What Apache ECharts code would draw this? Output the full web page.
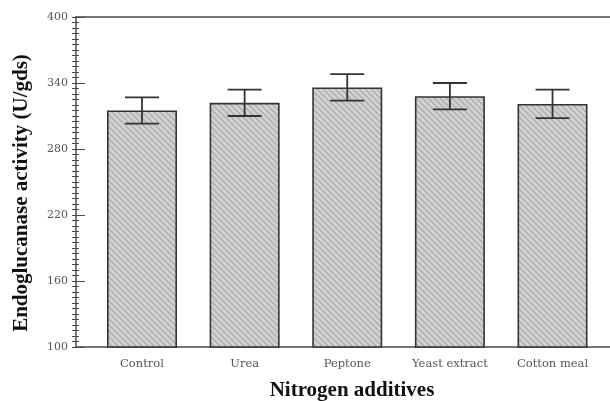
<!DOCTYPE html>
<html>
<head>
<meta charset="utf-8">
<script src="https://cdn.jsdelivr.net/npm/echarts@6/dist/echarts.min.js"></script>
<style>
html,body{margin:0;padding:0;background:#fff;}
#chart{width:610px;height:401px;}
</style>
</head>
<body>
<div id="chart"></div>
<script>
var categories = ['Control', 'Urea', 'Peptone', 'Yeast extract', 'Cotton meal'];
var activity = [315, 322, 336, 328, 321];
var errors = [12, 12, 12, 12, 13];
var yTicks = [100, 160, 220, 280, 340, 400];

function hatch() {
  var c = document.createElement('canvas');
  c.width = 6; c.height = 6;
  var g = c.getContext('2d');
  g.fillStyle = '#d2d2d2';
  g.fillRect(0, 0, 6, 6);
  g.strokeStyle = '#acacac';
  g.lineWidth = 1.3;
  g.beginPath();
  g.moveTo(-1, -1); g.lineTo(7, 7);
  g.moveTo(-4, 2); g.lineTo(4, 10);
  g.moveTo(2, -4); g.lineTo(10, 4);
  g.stroke();
  return c;
}

var barData = categories.map(function (c, i) { return [i, activity[i]]; });
var errData = categories.map(function (c, i) { return [i, activity[i] - errors[i], activity[i] + errors[i]]; });

var serif = "'Liberation Serif', 'DejaVu Serif', serif";
var tickFont = "'DejaVu Serif', serif";
var axisColor = '#4a4a4a';

var chart = echarts.init(document.getElementById('chart'), null, {renderer: 'canvas'});
chart.setOption({
  animation: false,
  backgroundColor: '#fff',
  grid: {left: 76, right: 0, top: 17, bottom: 54},
  xAxis: [{
    type: 'value', min: -0.643, max: 4.56,
    axisLine: {show: true, onZero: false, lineStyle: {color: axisColor, width: 1.5}},
    axisTick: {show: false},
    splitLine: {show: false},
    axisLabel: {
      customValues: [0, 1, 2, 3, 4],
      formatter: function (v) { return categories[Math.round(v)]; },
      margin: 11, fontFamily: tickFont, fontSize: 11.5, color: '#555'
    }
  }, {
    type: 'value', min: -0.643, max: 4.56, position: 'top',
    axisLine: {show: true, onZero: false, lineStyle: {color: axisColor, width: 1.5}},
    axisTick: {show: false}, axisLabel: {show: false}, splitLine: {show: false}
  }],
  yAxis: [{
    type: 'value', min: 100, max: 400, interval: 60,
    axisLine: {show: true, onZero: false, lineStyle: {color: axisColor, width: 1.5}},
    axisTick: {show: true, length: 4, lineStyle: {color: axisColor, width: 1}},
    minorTick: {show: true, splitNumber: 12, length: 4, lineStyle: {color: axisColor, width: 1}},
    splitLine: {show: false},
    axisLabel: {
      customValues: yTicks,
      fontFamily: tickFont, fontSize: 11, color: '#555', margin: 8
    }
  }, {
    type: 'value', min: 100, max: 400, interval: 60, position: 'left',
    axisLine: {show: false, onZero: false},
    axisTick: {show: true, inside: true, length: 9, lineStyle: {color: axisColor, width: 1}},
    minorTick: {show: true, splitNumber: 12, length: 3, lineStyle: {color: axisColor, width: 1}},
    splitLine: {show: false}, axisLabel: {show: false}
  }],
  graphic: [{
    type: 'text', x: 22, y: 193, rotation: Math.PI / 2,
    style: {text: 'Endoglucanase activity (U/gds)', font: 'bold 21px ' + serif,
      fill: '#111', align: 'center', verticalAlign: 'middle'}
  }, {
    type: 'text', x: 352, y: 391,
    style: {text: 'Nitrogen additives', font: 'bold 21px ' + serif,
      fill: '#111', align: 'center', verticalAlign: 'middle'}
  }],
  series: [{
    type: 'bar', xAxisIndex: 0, yAxisIndex: 0,
    data: barData, barWidth: 70,
    itemStyle: {
      color: {image: hatch(), repeat: 'repeat'},
      borderColor: '#333', borderWidth: 1.6
    }
  }, {
    type: 'custom', xAxisIndex: 0, yAxisIndex: 0,
    data: errData,
    z: 5,
    renderItem: function (params, api) {
      var lo = api.coord([api.value(0), api.value(1)]);
      var hi = api.coord([api.value(0), api.value(2)]);
      var hw = 17;
      var st = {stroke: '#333', lineWidth: 1.8};
      return {
        type: 'group',
        children: [
          {type: 'line', shape: {x1: hi[0], y1: hi[1], x2: lo[0], y2: lo[1]}, style: st},
          {type: 'line', shape: {x1: hi[0] - hw, y1: hi[1], x2: hi[0] + hw, y2: hi[1]}, style: st},
          {type: 'line', shape: {x1: lo[0] - hw, y1: lo[1], x2: lo[0] + hw, y2: lo[1]}, style: st}
        ]
      };
    }
  }]
});
</script>
</body>
</html>
